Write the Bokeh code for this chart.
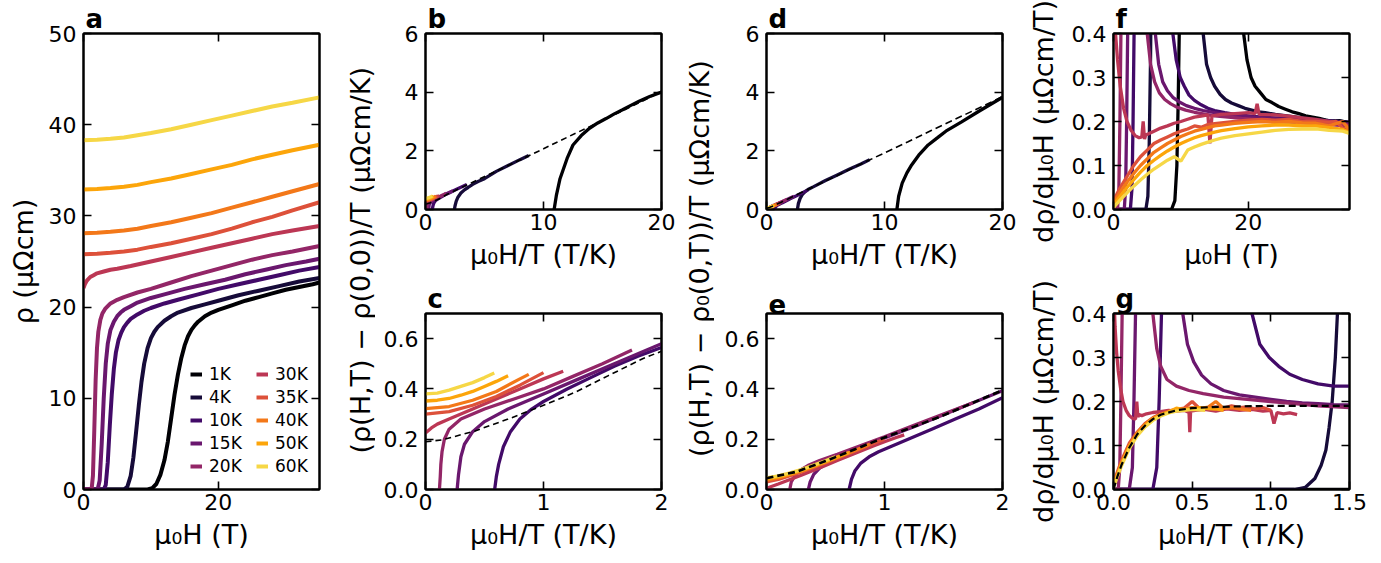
from math import pi
from bokeh.plotting import figure
from bokeh.layouts import row, column
from bokeh.models import (LinearAxis, FixedTicker, PrintfTickFormatter,
                          Legend, LegendItem, Range1d, Title)
from bokeh.core.properties import value
from bokeh.embed import file_html
from bokeh.resources import INLINE

FONT = "DejaVu Sans"

temperatures = ["1K", "4K", "10K", "15K", "20K", "30K", "35K", "40K", "50K", "60K"]
colors = ["#000004", "#160b39", "#420a68", "#6a176e", "#932667",
          "#bc3754", "#dd513a", "#f37819", "#fca50a", "#f6d746"]

# ---------------- panel a : rho vs mu0H ----------------
a_H = [
    [0, 9.5, 10.2, 10.8, 11.4, 12.0, 12.5, 13.0, 13.5, 14.0, 14.5, 15.0, 15.5, 16.0, 16.5, 17.0, 18.0, 19.0, 20.0, 22.0, 24.0, 26.0, 28.0, 30.0, 32.0, 34.0, 35.0],
    [0, 6.0, 6.5, 7.0, 7.4, 7.8, 8.2, 8.6, 9.0, 9.5, 10.0, 10.5, 11.0, 12.0, 13.0, 14.0, 16.0, 18.0, 20.0, 23.0, 26.0, 29.0, 32.0, 35.0],
    [0, 3.0, 3.3, 3.6, 3.9, 4.2, 4.5, 4.8, 5.2, 5.6, 6.0, 6.5, 7.0, 8.0, 9.0, 10.0, 12.0, 14.0, 17.0, 20.0, 23.0, 26.0, 29.0, 32.0, 35.0],
    [0, 2.1, 2.4, 2.7, 3.0, 3.3, 3.6, 4.0, 4.5, 5.0, 5.5, 6.0, 7.0, 8.0, 10.0, 12.0, 15.0, 18.0, 21.0, 24.0, 27.0, 30.0, 33.0, 35.0],
    [0, 1.2, 1.4, 1.6, 1.8, 2.0, 2.2, 2.5, 2.8, 3.2, 3.6, 4.0, 5.0, 6.0, 8.0, 10.0, 13.0, 16.0, 19.0, 22.0, 25.0, 28.0, 31.0, 35.0],
    [0, 0.2, 0.5, 1.0, 1.5, 2.0, 3.0, 4.0, 5.0, 7.0, 10.0, 13.0, 16.0, 19.0, 22.0, 25.0, 28.0, 31.0, 35.0],
    [0, 2, 4, 6, 8, 10, 13, 16, 19, 22, 25, 28, 31, 35],
    [0, 2, 4, 6, 8, 10, 13, 16, 19, 22, 25, 28, 31, 35],
    [0, 2, 4, 6, 8, 10, 13, 16, 19, 22, 25, 28, 31, 35],
    [0, 2, 4, 6, 8, 10, 13, 16, 19, 22, 25, 28, 31, 35],
]
a_rho = [
    [0, 0, 0.15, 0.6, 1.6, 3.2, 5.2, 7.8, 10.4, 12.6, 14.4, 15.8, 16.8, 17.5, 18.0, 18.4, 19.0, 19.4, 19.7, 20.2, 20.7, 21.1, 21.5, 21.9, 22.2, 22.5, 22.7],
    [0, 0, 0.3, 1.5, 3.5, 6.3, 9.2, 11.8, 13.8, 15.5, 16.6, 17.3, 17.8, 18.5, 19.0, 19.4, 19.9, 20.3, 20.7, 21.3, 21.8, 22.3, 22.8, 23.2],
    [0, 0, 0.5, 3.0, 7.0, 10.5, 13.2, 15.0, 16.4, 17.2, 17.8, 18.3, 18.7, 19.2, 19.6, 19.9, 20.4, 20.8, 21.4, 22.0, 22.5, 23.0, 23.5, 24.0, 24.4],
    [0, 0, 1.0, 5.0, 10.0, 13.8, 16.0, 17.5, 18.4, 19.0, 19.4, 19.7, 20.1, 20.5, 21.0, 21.4, 22.0, 22.5, 23.0, 23.6, 24.1, 24.6, 25.0, 25.3],
    [0, 0, 1.5, 6.5, 12.0, 15.5, 17.3, 18.6, 19.3, 19.8, 20.1, 20.4, 20.8, 21.1, 21.6, 22.0, 22.7, 23.4, 24.0, 24.6, 25.2, 25.7, 26.1, 26.7],
    [22.1, 22.5, 22.9, 23.3, 23.5, 23.7, 23.9, 24.1, 24.2, 24.5, 25.0, 25.5, 26.0, 26.5, 27.0, 27.5, 28.0, 28.4, 28.9],
    [25.8, 25.85, 25.95, 26.1, 26.3, 26.6, 27.0, 27.5, 28.0, 28.6, 29.3, 29.9, 30.6, 31.5],
    [28.1, 28.15, 28.25, 28.4, 28.6, 28.9, 29.3, 29.8, 30.3, 30.9, 31.5, 32.1, 32.7, 33.5],
    [32.9, 32.95, 33.05, 33.2, 33.4, 33.7, 34.1, 34.6, 35.1, 35.6, 36.2, 36.7, 37.2, 37.8],
    [38.3, 38.35, 38.45, 38.6, 38.85, 39.1, 39.5, 40.0, 40.5, 41.0, 41.5, 42.0, 42.4, 43.0],
]

# ---------------- panels b, c : (rho(H,T)-rho(0,0))/T vs mu0H/T ----------------
bc_x = [
    [10.9, 11.1, 11.4, 12.0, 12.5, 13.2, 13.9, 14.6, 15.3, 16.0, 16.7, 17.4, 18.1, 19.0, 20.0, 21.0],
    [2.45, 2.5, 2.6, 2.75, 3.0, 3.3, 3.6, 4.0, 4.5, 5.0, 6.0, 7.0, 8.0, 8.75],
    [0.586, 0.6, 0.62, 0.66, 0.72, 0.8, 0.9, 1.0, 1.2, 1.4, 1.6, 1.8, 2.0, 2.5, 3.0, 3.5],
    [0.268, 0.28, 0.3, 0.33, 0.4, 0.5, 0.7, 1.0, 1.3, 1.6, 2.0, 2.33],
    [0.118, 0.125, 0.13, 0.14, 0.16, 0.2, 0.3, 0.5, 0.75, 1.0, 1.25, 1.5, 1.75],
    [0, 0.05, 0.1, 0.2, 0.4, 0.6, 0.8, 1.0, 1.167],
    [0, 0.2, 0.4, 0.6, 0.8, 1.0],
    [0, 0.2, 0.4, 0.6, 0.8, 0.875],
    [0, 0.1, 0.2, 0.3, 0.4, 0.5, 0.6, 0.7],
    [0, 0.1, 0.2, 0.3, 0.4, 0.5, 0.583],
]
bc_y = [
    [0, 0.5, 1.05, 1.74, 2.2, 2.52, 2.77, 2.95, 3.1, 3.26, 3.4, 3.55, 3.69, 3.85, 4.0, 4.17],
    [0, 0.12, 0.28, 0.42, 0.56, 0.67, 0.75, 0.86, 0.96, 1.05, 1.3, 1.5, 1.7, 1.84],
    [0, 0.05, 0.1, 0.17, 0.23, 0.28, 0.32, 0.35, 0.4, 0.445, 0.49, 0.53, 0.565, 0.665, 0.76, 0.85],
    [0, 0.06, 0.13, 0.18, 0.23, 0.27, 0.32, 0.38, 0.44, 0.5, 0.58, 0.64],
    [0, 0.05, 0.1, 0.15, 0.2, 0.24, 0.28, 0.32, 0.36, 0.4, 0.45, 0.5, 0.555],
    [0.225, 0.245, 0.26, 0.28, 0.32, 0.36, 0.40, 0.44, 0.47],
    [0.30, 0.31, 0.335, 0.37, 0.415, 0.465],
    [0.322, 0.33, 0.355, 0.39, 0.44, 0.458],
    [0.352, 0.355, 0.362, 0.375, 0.39, 0.41, 0.43, 0.452],
    [0.38, 0.383, 0.395, 0.41, 0.425, 0.445, 0.463],
]
bc_fit_x = [0, 0.14, 0.42, 0.7, 0.99, 1.27, 1.55, 1.84, 2.0, 3.0, 4.0, 6.0, 8.0, 10.0, 12.0, 14.0, 16.0, 18.0, 20.0]
bc_fit_y = [0.19, 0.197, 0.233, 0.28, 0.333, 0.387, 0.453, 0.52, 0.55, 0.74, 0.93, 1.31, 1.69, 2.07, 2.46, 2.84, 3.23, 3.62, 4.02]

# ---------------- panels d, e : (rho(H,T)-rho0(0,T))/T vs mu0H/T ----------------
de_x = [
    [11.05, 11.2, 11.5, 11.9, 12.3, 12.9, 13.7, 14.5, 15.2, 16.5, 18.0, 19.9, 21.0],
    [2.62, 2.7, 2.85, 3.05, 3.3, 3.6, 4.0, 5.0, 6.0, 7.0, 8.0, 8.75],
    [0.7, 0.72, 0.75, 0.8, 0.87, 0.95, 1.05, 1.2, 1.4, 1.6, 1.8, 2.0, 2.5, 3.0, 3.5],
    [0.355, 0.37, 0.4, 0.45, 0.5, 0.6, 0.7, 0.85, 1.0, 1.25, 1.5, 1.75, 2.0, 2.33],
    [0.197, 0.21, 0.24, 0.28, 0.35, 0.45, 0.6, 0.8, 1.0, 1.25, 1.5, 1.75],
    [0, 0.1, 0.2, 0.3, 0.4, 0.5, 0.6, 0.7, 0.8, 0.9, 1.0, 1.1, 1.167],
    [0, 0.1, 0.2, 0.3, 0.4, 0.5, 0.6, 0.7, 0.8, 0.9, 1.0],
    [0, 0.1, 0.2, 0.3, 0.4, 0.5, 0.6, 0.7, 0.8, 0.875],
    [0, 0.1, 0.2, 0.3, 0.4, 0.5, 0.6, 0.7],
    [0, 0.1, 0.2, 0.3, 0.4, 0.5, 0.583],
]
de_y = [
    [0, 0.45, 0.9, 1.25, 1.52, 1.85, 2.2, 2.45, 2.67, 2.98, 3.35, 3.8, 4.0],
    [0, 0.2, 0.38, 0.52, 0.62, 0.7, 0.78, 0.99, 1.18, 1.37, 1.55, 1.7],
    [0, 0.04, 0.075, 0.105, 0.13, 0.15, 0.17, 0.2, 0.24, 0.28, 0.32, 0.365, 0.46, 0.56, 0.66],
    [0, 0.03, 0.06, 0.085, 0.1, 0.125, 0.145, 0.175, 0.205, 0.25, 0.297, 0.345, 0.393, 0.455],
    [0, 0.03, 0.055, 0.075, 0.095, 0.115, 0.14, 0.175, 0.21, 0.255, 0.3, 0.345],
    [0.005, 0.022, 0.04, 0.058, 0.077, 0.096, 0.115, 0.134, 0.153, 0.172, 0.19, 0.207, 0.217],
    [0.03, 0.04, 0.055, 0.07, 0.088, 0.106, 0.124, 0.143, 0.162, 0.182, 0.2],
    [0.037, 0.046, 0.059, 0.074, 0.091, 0.109, 0.127, 0.146, 0.165, 0.18],
    [0.042, 0.05, 0.062, 0.077, 0.094, 0.111, 0.129, 0.147],
    [0.046, 0.054, 0.066, 0.08, 0.097, 0.114, 0.13],
]
de_fit_x = [0, 0.25, 0.5, 0.75, 1.0, 1.25, 1.5, 1.75, 2.0, 4.0, 6.0, 8.0, 10.0, 12.0, 14.0, 16.0, 18.0, 20.0]
de_fit_y = [0.045, 0.07, 0.113, 0.16, 0.207, 0.25, 0.295, 0.345, 0.395, 0.78, 1.16, 1.55, 1.93, 2.31, 2.7, 3.08, 3.46, 3.85]

# ---------------- panel f : drho/dmu0H vs mu0H ----------------
f_H = [
    [0, 4, 8.6, 9.1, 9.4, 9.6, 9.8, 10.0, 18.8, 19.3, 19.8, 20.4, 21.0, 21.8, 22.6, 23.5, 24.5, 25.5, 26.5, 27.5, 28.5, 29.5, 30.5, 31.5, 32.5, 33.5, 34.5, 35],
    [0, 4.8, 5.1, 5.3, 5.5, 5.7, 12.8, 13.3, 13.8, 14.4, 15.0, 15.8, 16.6, 17.5, 18.5, 19.5, 20.5, 21.5, 22.5, 24, 26, 28, 30, 32, 34, 35],
    [0, 2.5, 2.75, 2.9, 3.05, 3.2, 8.4, 8.8, 9.3, 9.9, 10.5, 11.2, 12, 13, 14, 15, 16.5, 18, 20, 22, 24, 27, 30, 33, 35],
    [0, 1.6, 1.8, 1.95, 2.1, 2.25, 5.8, 6.2, 6.7, 7.3, 8.0, 8.8, 9.7, 10.8, 12, 13.3, 15, 17, 19, 21, 23, 26, 29, 32, 35],
    [0, 0.6, 0.8, 0.95, 1.1, 1.25, 4.6, 5.0, 5.5, 6.1, 6.8, 7.6, 8.5, 9.5, 10.7, 12, 13.5, 15, 17, 19, 21, 24, 27, 30, 33, 35],
    [0, 0.3, 0.6, 1.0, 1.5, 2.0, 2.6, 3.2, 3.8, 4.2, 4.4, 4.6, 4.8, 5.2, 6, 7, 8, 9, 10, 11, 12, 13, 14, 14.3, 14.6, 16, 18, 20, 21, 21.3, 21.6, 24, 26, 28, 30, 32, 34, 35],
    [0, 1, 2, 3, 4, 5, 6, 7, 8, 9, 10, 11, 12, 13, 14, 15, 16, 18, 20, 22, 24, 26, 28, 30, 32, 33, 34, 35],
    [0, 1, 2, 3, 4, 5, 6, 7, 8, 9, 10, 11, 12, 13, 14, 15, 16, 18, 20, 22, 24, 26, 28, 30, 32, 34, 35],
    [0, 1, 2, 3, 4, 5, 6, 7, 8, 9, 10, 11, 12, 13, 14, 15, 16, 18, 20, 22, 24, 26, 28, 30, 32, 34, 35],
    [0, 1, 2, 3, 4, 5, 6, 7, 8, 9, 10, 11, 12, 13, 14, 15, 16, 18, 20, 22, 24, 26, 28, 30, 32, 34, 35],
]
f_v = [
    [0, 0, 0, 0.02, 0.1, 0.25, 0.45, 0.7, 0.6, 0.4, 0.34, 0.3, 0.28, 0.265, 0.25, 0.243, 0.234, 0.228, 0.222, 0.218, 0.213, 0.21, 0.207, 0.203, 0.2, 0.202, 0.198, 0.197],
    [0, 0, 0.03, 0.15, 0.35, 0.7, 0.6, 0.4, 0.33, 0.3, 0.28, 0.262, 0.25, 0.242, 0.236, 0.23, 0.226, 0.222, 0.22, 0.216, 0.212, 0.208, 0.205, 0.202, 0.2, 0.198],
    [0, 0, 0.05, 0.2, 0.4, 0.7, 0.55, 0.4, 0.34, 0.3, 0.28, 0.26, 0.248, 0.238, 0.23, 0.225, 0.22, 0.216, 0.213, 0.21, 0.208, 0.205, 0.203, 0.2, 0.198],
    [0, 0, 0.05, 0.2, 0.4, 0.7, 0.55, 0.4, 0.33, 0.29, 0.27, 0.255, 0.245, 0.236, 0.23, 0.225, 0.22, 0.215, 0.212, 0.21, 0.207, 0.204, 0.202, 0.2, 0.197],
    [0, 0, 0.05, 0.2, 0.4, 0.7, 0.55, 0.4, 0.33, 0.29, 0.265, 0.25, 0.24, 0.232, 0.226, 0.221, 0.217, 0.213, 0.21, 0.207, 0.205, 0.2, 0.198, 0.195, 0.192, 0.19],
    [0.45, 0.4, 0.34, 0.28, 0.23, 0.2, 0.18, 0.168, 0.163, 0.165, 0.2, 0.16, 0.17, 0.172, 0.178, 0.185, 0.19, 0.196, 0.2, 0.205, 0.21, 0.212, 0.215, 0.15, 0.213, 0.216, 0.218, 0.22, 0.218, 0.24, 0.216, 0.215, 0.212, 0.208, 0.205, 0.2, 0.195, 0.19],
    [0.02, 0.05, 0.075, 0.1, 0.12, 0.135, 0.15, 0.158, 0.165, 0.172, 0.178, 0.183, 0.19, 0.187, 0.193, 0.195, 0.197, 0.2, 0.203, 0.205, 0.203, 0.205, 0.2, 0.2, 0.198, 0.2, 0.185, 0.18],
    [0.015, 0.04, 0.062, 0.082, 0.1, 0.115, 0.13, 0.14, 0.15, 0.158, 0.166, 0.172, 0.178, 0.182, 0.186, 0.19, 0.192, 0.196, 0.198, 0.2, 0.198, 0.2, 0.197, 0.196, 0.19, 0.2, 0.18],
    [0.01, 0.03, 0.05, 0.068, 0.085, 0.1, 0.112, 0.123, 0.133, 0.142, 0.15, 0.157, 0.163, 0.168, 0.172, 0.176, 0.179, 0.184, 0.188, 0.19, 0.192, 0.192, 0.19, 0.19, 0.186, 0.182, 0.175],
    [0.005, 0.022, 0.038, 0.053, 0.067, 0.08, 0.092, 0.102, 0.112, 0.12, 0.11, 0.135, 0.142, 0.148, 0.153, 0.158, 0.162, 0.168, 0.172, 0.176, 0.18, 0.182, 0.183, 0.183, 0.18, 0.178, 0.173],
]

# ---------------- panel g : drho/dmu0H vs mu0H/T ----------------
g_x = [
    [0, 1.5],
    [0, 1.15, 1.22, 1.28, 1.32, 1.35, 1.37, 1.39, 1.41, 1.43],
    [0, 0.25, 0.275, 0.29, 0.305, 0.32, 0.84, 0.88, 0.93, 0.99, 1.05, 1.12, 1.2, 1.3, 1.4, 1.5],
    [0, 0.1, 0.12, 0.13, 0.14, 0.15, 0.41, 0.44, 0.47, 0.51, 0.56, 0.62, 0.7, 0.8, 0.9, 1.0, 1.1, 1.2, 1.3, 1.4, 1.5],
    [0, 0.03, 0.04, 0.047, 0.055, 0.062, 0.23, 0.25, 0.275, 0.3, 0.34, 0.4, 0.48, 0.57, 0.7, 0.85, 1.0, 1.15, 1.3, 1.5],
    [0.005, 0.01, 0.02, 0.03, 0.045, 0.06, 0.08, 0.1, 0.12, 0.14, 0.148, 0.155, 0.162, 0.18, 0.21, 0.25, 0.3, 0.35, 0.4, 0.45, 0.48, 0.485, 0.49, 0.52, 0.58, 0.65, 0.72, 0.8, 0.88, 0.95, 1.0, 1.02, 1.04, 1.08, 1.12, 1.167],
    [0, 0.02, 0.05, 0.1, 0.15, 0.2, 0.25, 0.3, 0.35, 0.4, 0.45, 0.5, 0.55, 0.6, 0.65, 0.7, 0.75, 0.8, 0.85, 0.9, 0.95, 1.0],
    [0, 0.02, 0.05, 0.1, 0.15, 0.2, 0.25, 0.3, 0.35, 0.4, 0.45, 0.5, 0.55, 0.6, 0.65, 0.7, 0.75, 0.8, 0.875],
    [0, 0.02, 0.05, 0.1, 0.15, 0.2, 0.25, 0.3, 0.35, 0.4, 0.45, 0.5, 0.55, 0.6, 0.65, 0.7],
    [0, 0.02, 0.05, 0.1, 0.15, 0.2, 0.25, 0.3, 0.35, 0.4, 0.45, 0.5, 0.583],
]
g_v = [
    [0, 0],
    [0, 0, 0.005, 0.025, 0.055, 0.09, 0.14, 0.2, 0.3, 0.45],
    [0, 0, 0.05, 0.2, 0.4, 0.7, 0.55, 0.4, 0.33, 0.3, 0.28, 0.262, 0.25, 0.24, 0.235, 0.235],
    [0, 0, 0.05, 0.2, 0.4, 0.7, 0.55, 0.4, 0.33, 0.29, 0.26, 0.24, 0.225, 0.215, 0.21, 0.205, 0.2, 0.197, 0.195, 0.193, 0.192],
    [0, 0, 0.05, 0.2, 0.4, 0.7, 0.55, 0.4, 0.32, 0.28, 0.25, 0.235, 0.225, 0.218, 0.21, 0.205, 0.2, 0.195, 0.19, 0.186],
    [0.42, 0.37, 0.31, 0.27, 0.23, 0.2, 0.18, 0.168, 0.162, 0.16, 0.2, 0.165, 0.17, 0.168, 0.172, 0.175, 0.177, 0.18, 0.178, 0.18, 0.175, 0.13, 0.178, 0.18, 0.182, 0.178, 0.183, 0.18, 0.182, 0.178, 0.18, 0.15, 0.175, 0.172, 0.174, 0.17],
    [0.01, 0.035, 0.065, 0.105, 0.13, 0.15, 0.163, 0.172, 0.178, 0.182, 0.185, 0.2, 0.183, 0.186, 0.188, 0.185, 0.19, 0.186, 0.188, 0.183, 0.186, 0.18],
    [0.01, 0.03, 0.06, 0.1, 0.128, 0.148, 0.162, 0.17, 0.176, 0.18, 0.183, 0.186, 0.184, 0.187, 0.2, 0.184, 0.186, 0.183, 0.18],
    [0.008, 0.028, 0.057, 0.097, 0.125, 0.145, 0.16, 0.17, 0.176, 0.185, 0.181, 0.184, 0.186, 0.184, 0.183, 0.18],
    [0.005, 0.025, 0.053, 0.093, 0.122, 0.142, 0.157, 0.167, 0.174, 0.178, 0.18, 0.182, 0.18],
]
g_fit_x = [0, 0.025, 0.05, 0.1, 0.15, 0.2, 0.25, 0.3, 0.4, 0.5, 0.6, 0.8, 1.0, 1.5]
g_fit_y = [0, 0.03, 0.055, 0.095, 0.125, 0.145, 0.16, 0.17, 0.18, 0.185, 0.187, 0.189, 0.19, 0.19]

# ---------------- tick definitions ----------------
a_xticks, a_yticks = [0, 20], [0, 10, 20, 30, 40, 50]
bd_xticks, bd_yticks = [0, 10, 20], [0, 2, 4, 6]
ce_xticks, ce_yticks = [0, 1, 2], [0, 0.2, 0.4, 0.6]
f_xticks, fg_yticks = [0, 20], [0, 0.1, 0.2, 0.3, 0.4]
g_xticks = [0, 0.5, 1.0, 1.5]

TICK_FS = "22px"
LAB_FS = "27px"


def panel(xr, yr, fh, bl, br, bt, bb, letter):
    p = figure(x_range=Range1d(*xr), y_range=Range1d(*yr), frame_width=236, frame_height=fh,
               min_border_left=bl, min_border_right=br, min_border_top=bt, min_border_bottom=bb,
               x_axis_type=None, y_axis_type=None, toolbar_location=None, output_backend="svg",
               title=Title(text=letter, align="left", offset=2, standoff=0,
                           text_font=FONT, text_font_size="26px", text_font_style="bold",
                           text_color="black", vertical_align="bottom"))
    p.outline_line_color = "black"
    p.outline_line_width = 2
    p.border_fill_color = "white"
    return p


def axes(p, xt, yt, xfmt, yfmt, xlabel, ylabel, xls=6, yls=7):
    spec = [("below", xt, xfmt, xlabel, True, xls, 4), ("above", xt, xfmt, None, False, 0, 0),
            ("left", yt, yfmt, ylabel, True, yls, 7), ("right", yt, yfmt, None, False, 0, 0)]
    for side, ticks, fmt, lab, show, ls, so in spec:
        ax = LinearAxis(ticker=FixedTicker(ticks=ticks, minor_ticks=[]),
                        formatter=PrintfTickFormatter(format=fmt))
        ax.major_tick_in = 8
        ax.major_tick_out = 0
        ax.minor_tick_in = 0
        ax.minor_tick_out = 0
        ax.major_tick_line_width = 1.6
        ax.major_tick_line_color = "black"
        ax.axis_line_width = 2
        ax.axis_line_color = "black"
        ax.major_label_text_font = FONT
        ax.major_label_standoff = so
        if show:
            ax.major_label_text_font_size = TICK_FS
            ax.major_label_text_color = "black"
        else:
            ax.major_label_text_font_size = "2px"
            ax.major_label_text_color = None
        if lab:
            ax.axis_label = lab
            ax.axis_label_text_font = FONT
            ax.axis_label_text_font_size = LAB_FS
            ax.axis_label_text_font_style = "normal"
            ax.axis_label_text_color = "black"
            ax.axis_label_standoff = ls
        p.add_layout(ax, side)


def ylab_fig(txt, w, h, yc):
    p = figure(width=w, height=h, x_range=Range1d(0, 1), y_range=Range1d(0, 1),
               x_axis_type=None, y_axis_type=None, toolbar_location=None,
               output_backend="svg", min_border=0)
    p.outline_line_color = None
    p.text(x=[0.5], y=[yc], text=[txt], angle=pi / 2, text_align="center",
           text_baseline="middle", text_font=value(FONT), text_font_size=value(LAB_FS),
           text_color="black")
    return p


TOP = 33

# ---------------- panel a ----------------
pa = panel((0, 35), (0, 50), 456, 83, 26, TOP, 70, "a")
ra = []
for i in range(len(temperatures)):
    ra.append(pa.line(a_H[i], a_rho[i], line_color=colors[i], line_width=4))
axes(pa, a_xticks, a_yticks, "%d", "%d", "μ₀H (T)", "ρ (μΩcm)", yls=7)
common_leg = dict(border_line_color=None, background_fill_alpha=0, padding=0, margin=0,
                  spacing=3, glyph_width=12, glyph_height=20, label_height=20,
                  label_standoff=7, label_text_font=FONT, label_text_font_size="17px",
                  label_text_color="black", label_text_baseline="middle")
leg1 = Legend(items=[LegendItem(label=temperatures[i], renderers=[ra[i]]) for i in range(5)],
              location=(107, 13), **common_leg)
leg2 = Legend(items=[LegendItem(label=temperatures[i], renderers=[ra[i]]) for i in range(5, 10)],
              location=(173, 13), **common_leg)
pa.add_layout(leg1)
pa.add_layout(leg2)

# ---------------- panels b, c ----------------
pb = panel((0, 20), (0, 6), 176, 50, 23, TOP, 71, "b")
pc = panel((0, 2), (0, 0.7), 176, 50, 23, TOP, 70, "c")
for p in (pb, pc):
    for i in range(len(temperatures)):
        p.line(bc_x[i], bc_y[i], line_color=colors[i], line_width=3.3)
    p.line(bc_fit_x, bc_fit_y, line_color="black", line_width=1.6, line_dash="6 4")
axes(pb, bd_xticks, bd_yticks, "%d", "%d", "μ₀H/T (T/K)", None)
axes(pc, ce_xticks, ce_yticks, "%d", "%.1f", "μ₀H/T (T/K)", None)

# ---------------- panels d, e ----------------
pd_ = panel((0, 20), (0, 6), 176, 52, 22, TOP, 71, "d")
pe = panel((0, 2), (0, 0.7), 176, 52, 22, TOP, 70, "e")
for p, dash_w in ((pd_, 1.6), (pe, 2.6)):
    for i in range(len(temperatures)):
        p.line(de_x[i], de_y[i], line_color=colors[i], line_width=3.3)
    p.line(de_fit_x, de_fit_y, line_color="black", line_width=dash_w, line_dash="7 4")
axes(pd_, bd_xticks, bd_yticks, "%d", "%d", "μ₀H/T (T/K)", None)
axes(pe, ce_xticks, ce_yticks, "%d", "%.1f", "μ₀H/T (T/K)", None)

# ---------------- panels f, g ----------------
pf = panel((0, 35), (0, 0.4), 176, 85, 22, TOP, 71, "f")
pg = panel((0, 1.5), (0, 0.4), 176, 85, 22, TOP, 70, "g")
for i in range(len(temperatures)):
    pf.line(f_H[i], f_v[i], line_color=colors[i], line_width=3.3)
    pg.line(g_x[i], g_v[i], line_color=colors[i], line_width=3.3)
pg.line(g_fit_x, g_fit_y, line_color="black", line_width=2.2, line_dash="7 4")
axes(pf, f_xticks, fg_yticks, "%d", "%.1f", "μ₀H (T)", "dρ/dμ₀H (μΩcm/T)", yls=10)
axes(pg, g_xticks, fg_yticks, "%.1f", "%.1f", "μ₀H/T (T/K)", "dρ/dμ₀H (μΩcm/T)", yls=10)

# ---------------- shared y labels ----------------
H_ALL = TOP + 456 + 70
lab_bc = ylab_fig("(ρ(H,T) − ρ(0,0))/T (μΩcm/K)", 30, H_ALL, 1 - 278 / H_ALL)
lab_de = ylab_fig("(ρ(H,T) − ρ₀(0,T))/T (μΩcm/K)", 30, H_ALL, 1 - 276 / H_ALL)

layout = row(pa, lab_bc, column(pb, pc), lab_de, column(pd_, pe), column(pf, pg))

open("out.html", "w").write(file_html(layout, INLINE))
